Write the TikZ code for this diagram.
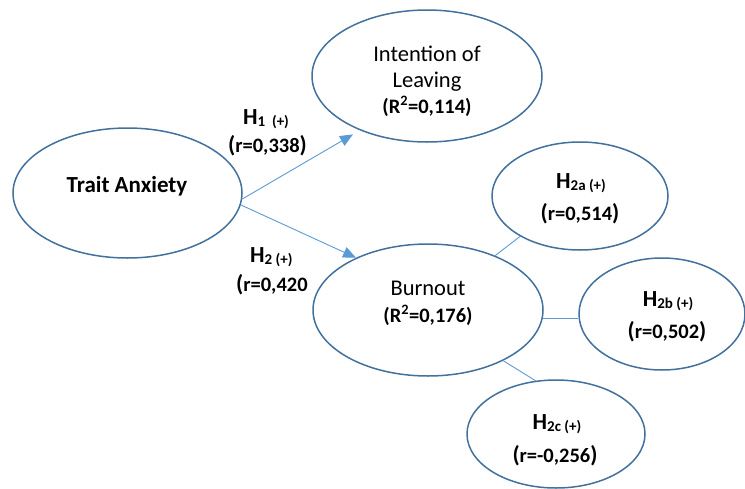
\documentclass[tikz,border=0pt]{standalone}
\usepackage{fontspec}
\setmainfont{Carlito}
\usetikzlibrary{shapes.geometric,arrows.meta}
\definecolor{ellborder}{HTML}{41719C}
\definecolor{linkblue}{HTML}{5B9BD5}
\tikzset{
  ell/.style={ellipse, draw=ellborder, line width=1.5pt, fill=white, inner sep=0pt},
  link/.style={draw=linkblue, line width=0.9pt},
  arr/.style={link, -{Triangle[length=13pt,width=11pt]}},
  lbl/.style={anchor=base, inner sep=0pt, font=\fontsize{22.5}{27}\selectfont},
  blbl/.style={anchor=base, inner sep=0pt, font=\bfseries\fontsize{20.5}{25}\selectfont},
  hlbl/.style={anchor=base, inner sep=0pt, font=\bfseries\fontsize{23}{27}\selectfont},
}
\newcommand{\hsub}[1]{\raisebox{-2.5pt}{\fontsize{15}{17}\selectfont #1}}
\newcommand{\bigpar}{{\fontsize{23}{25}\selectfont(}}
\newcommand{\bigparr}{{\fontsize{23}{25}\selectfont)}}
\begin{document}
\begin{tikzpicture}[x=1pt,y=-1pt]
\useasboundingbox (0,0) rectangle (745,488);
% ellipses
\node[ell, minimum width=229pt, minimum height=130pt] (trait) at (127.5,193) {};
\node[ell, minimum width=230pt, minimum height=132pt] (intent) at (427,76) {};
\node[ell, minimum width=230pt, minimum height=132pt] (burn) at (428,310) {};
\node[ell, minimum width=176pt, minimum height=108pt] (h2a) at (580,196) {};
\node[ell, minimum width=166pt, minimum height=112pt] (h2b) at (662,314) {};
\node[ell, minimum width=178pt, minimum height=108pt] (h2c) at (556,434) {};
% connectors
\draw[arr, shorten >=8pt] (trait.-3) -- (intent.219);
\draw[arr] (trait.-6) -- (burn.144);
\draw[link] (burn.39) -- (h2a.214);
\draw[link] (burn.-4) -- (burn.-4 -| h2b.west);
\draw[link] (burn.-34) -- (h2c.111);
% ellipse texts
\node[hlbl] (traittxt) at (127,192) {Trait Anxiety};
\node[lbl] (intent1) at (427,61) {Intention of};
\node[lbl] (intent2) at (427,87) {Leaving};
\node[blbl] (intent3) at (427,113) {(R\textsuperscript{2}=0,114)};
\node[lbl] (burn1) at (428,295) {Burnout};
\node[blbl] (burn2) at (428,322) {(R\textsuperscript{2}=0,176)};
\node[hlbl] (h2atxt) at (581,188) {H\hsub{2a (+)}};
\node[blbl] (h2ar) at (580,220) {\bigpar r=0,514\bigparr};
\node[hlbl] (h2btxt) at (668,306) {H\hsub{2b (+)}};
\node[blbl] (h2br) at (667,338) {\bigpar r=0,502\bigparr};
\node[hlbl] (h2ctxt) at (557,429) {H\hsub{2c (+)}};
\node[blbl] (h2cr) at (555,462) {\bigpar r=-0,256\bigparr};
% path labels
\node[hlbl, anchor=base west] (h1lbl) at (243,124) {H\hsub{1\ \ (+)}};
\node[blbl, anchor=base west] (h1r) at (228,152) {\bigpar r=0,338\bigparr};
\node[hlbl, anchor=base west] (h2lbl) at (250,262) {H\hsub{2 (+)}};
\node[blbl, anchor=base west] (h2r) at (236,291) {\bigpar r=0,420};
\end{tikzpicture}
\end{document}
